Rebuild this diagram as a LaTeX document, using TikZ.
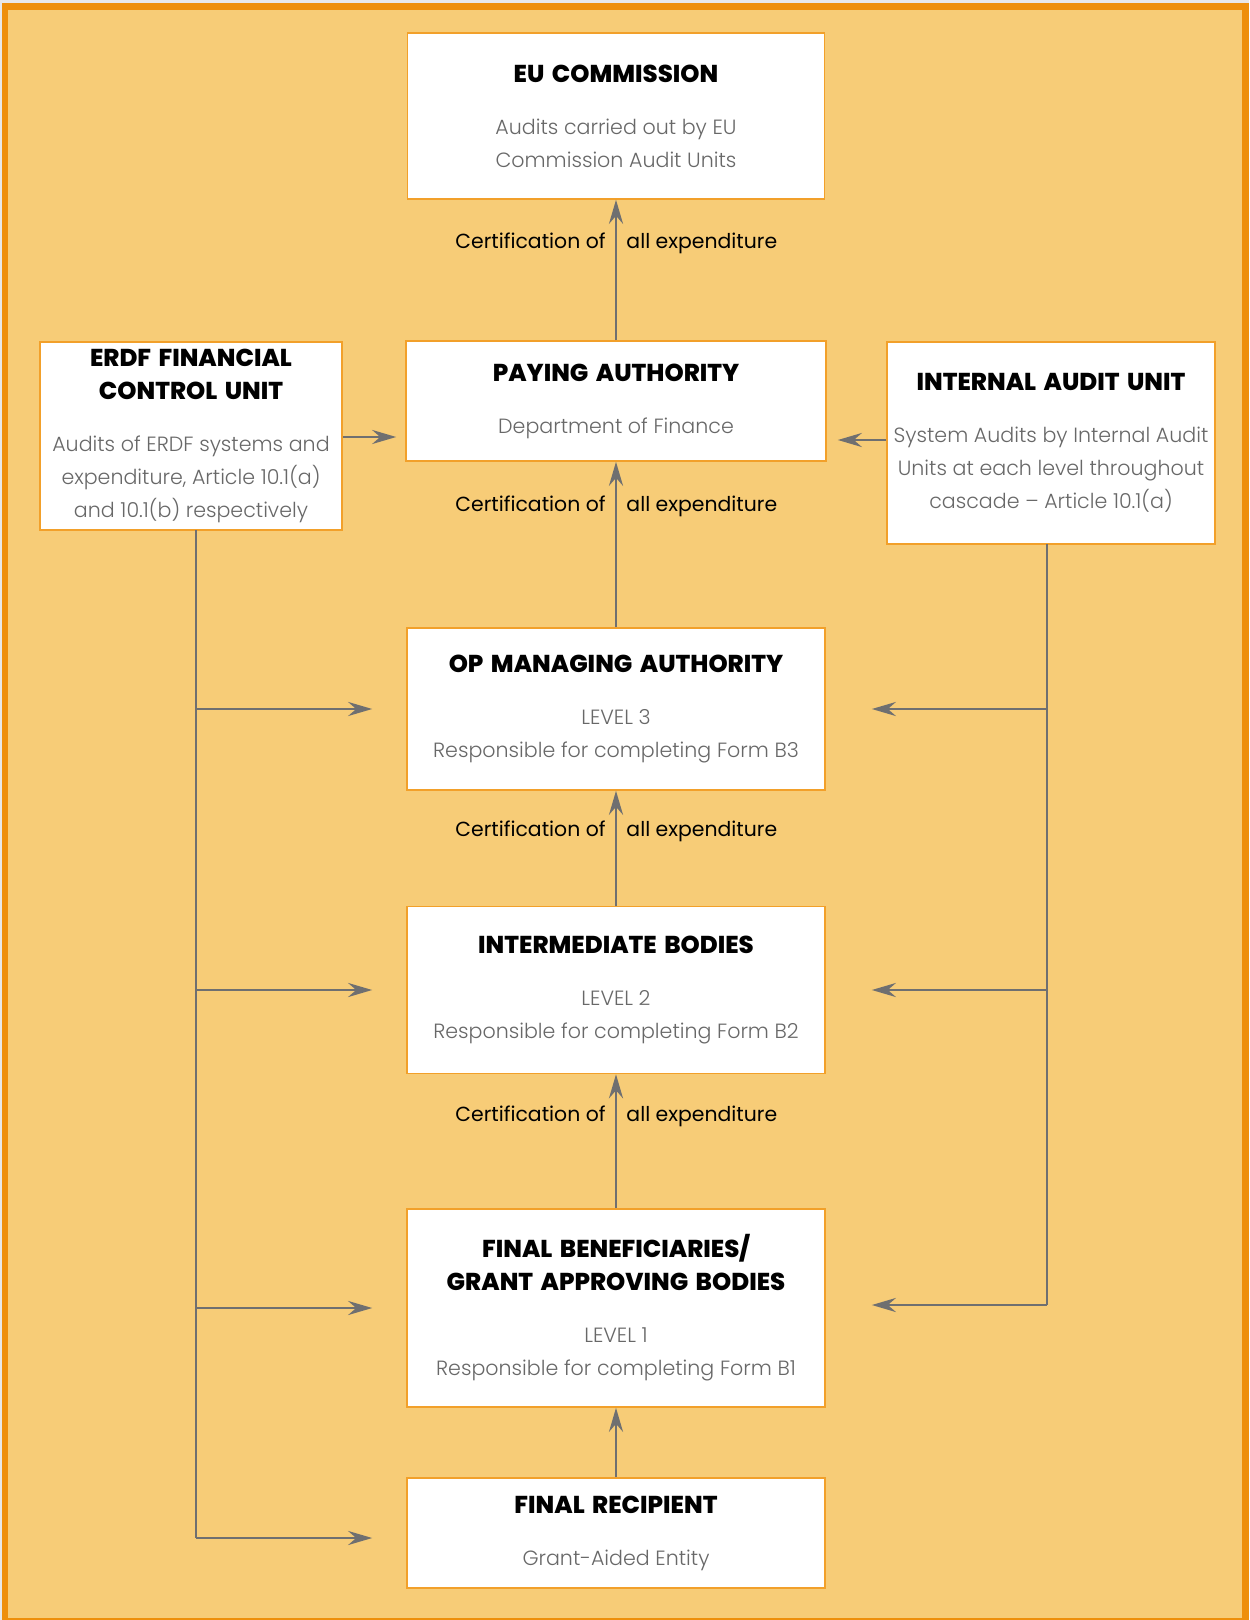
\documentclass[tikz,border=0pt]{standalone}
\usepackage{fontspec}
\IfFontExistsTF{Poppins Light}
  {\setmainfont{Poppins Light}[BoldFont={Poppins Bold}]}
  {\setmainfont{Poppins}}
\IfFontExistsTF{Poppins ExtraBold}
  {\newfontfamily\headfont{Poppins ExtraBold}[WordSpace=1.6]}
  {\newfontfamily\headfont{Poppins}[UprightFont=*-Bold,WordSpace=1.6]}
\newfontfamily\certfont{Poppins}
\usetikzlibrary{arrows.meta}
\definecolor{bgfill}{HTML}{F7CC77}
\definecolor{frameorange}{HTML}{EE8F0B}
\definecolor{boxline}{HTML}{F2A02A}
\definecolor{linegray}{HTML}{6F6F70}
\definecolor{textgray}{HTML}{686868}
\newcommand{\hd}[1]{{\color{black}\headfont\fontsize{12.2}{16.5}\selectfont #1}}

\begin{document}
\begin{tikzpicture}[x=0.5pt,y=-0.5pt,
  box/.style={rectangle,draw=boxline,line width=0.8pt,fill=white,align=center,inner sep=0pt,text=textgray,font=\fontsize{10.3}{16.5}\selectfont},
  conn/.style={draw=linegray,line width=1.45pt},
  arr/.style={conn,-{Stealth[length=12pt,width=7pt,inset=4pt]}},
  cert/.style={font=\certfont\fontsize{10.2}{13}\selectfont,text=black,inner sep=4.5pt}]
  \fill[black!9] (0,0) rectangle (1249,1620);
  \fill[frameorange] (2,3) rectangle (1249,1620);
  \fill[bgfill] (8,10) rectangle (1242,1618);

  \node[box,minimum width=208.5pt,minimum height=83pt] (eu) at (616,116)
    {\hd{EU COMMISSION}\\[9.5pt]Audits carried out by EU\\Commission Audit Units};
  \node[box,minimum width=210pt,minimum height=60pt] (pay) at (616,401)
    {\hd{PAYING AUTHORITY}\\[9.5pt]Department of Finance};
  \node[box,minimum width=151pt,minimum height=94pt] (erdf) at (191,436)
    {\hd{ERDF FINANCIAL}\\\hd{CONTROL UNIT}\\[9.5pt]Audits of ERDF systems and\\expenditure, Article 10.1(a)\\and 10.1(b) respectively};
  \node[box,minimum width=164pt,minimum height=101pt] (iau) at (1051,443)
    {\hd{INTERNAL AUDIT UNIT}\\[9.5pt]System Audits by Internal Audit\\Units at each level throughout\\cascade -- Article 10.1(a)};
  \node[box,minimum width=209pt,minimum height=81pt] (op) at (616,709)
    {\hd{OP MANAGING AUTHORITY}\\[9.5pt]LEVEL 3\\Responsible for completing Form B3};
  \node[box,minimum width=209pt,minimum height=83.5pt] (ib) at (616,990)
    {\hd{INTERMEDIATE BODIES}\\[9.5pt]LEVEL 2\\Responsible for completing Form B2};
  \node[box,minimum width=209pt,minimum height=99pt] (fb) at (616,1308)
    {\hd{FINAL BENEFICIARIES/}\\\hd{GRANT APPROVING BODIES}\\[9.5pt]LEVEL 1\\Responsible for completing Form B1};
  \node[box,minimum width=209pt,minimum height=55pt] (fr) at (616,1533)
    {\hd{FINAL RECIPIENT}\\[9.5pt]Grant-Aided Entity};

  \coordinate (ltop) at (196,530);
  \coordinate (lbot) at (196,1538);
  \coordinate (rtop) at (1047,544);
  \coordinate (rbot) at (1047,1305);

  \draw[arr] (pay.north) -- (eu.south)
    node[cert,pos=0.655,anchor=base east] {Certification of}
    node[cert,pos=0.655,anchor=base west] {all expenditure};
  \draw[arr] (op.north) -- (pay.south)
    node[cert,pos=0.70,anchor=base east] {Certification of}
    node[cert,pos=0.70,anchor=base west] {all expenditure};
  \draw[arr] (ib.north) -- (op.south)
    node[cert,pos=0.60,anchor=base east] {Certification of}
    node[cert,pos=0.60,anchor=base west] {all expenditure};
  \draw[arr] (fb.north) -- (ib.south)
    node[cert,pos=0.65,anchor=base east] {Certification of}
    node[cert,pos=0.65,anchor=base west] {all expenditure};
  \draw[arr] (fr.north) -- (fb.south);

  \draw[arr,shorten >=4.5pt] (erdf.east |- 0,437) -- (pay.west |- 0,437);
  \draw[arr,shorten >=5.5pt] (iau.west |- 0,440) -- (pay.east |- 0,440);

  \draw[conn] (ltop) -- (lbot);
  \draw[arr,shorten >=17pt] (ltop |- op.west) -- (op.west);
  \draw[arr,shorten >=17pt] (ltop |- ib.west) -- (ib.west);
  \draw[arr,shorten >=17pt] (ltop |- fb.west) -- (fb.west);
  \draw[arr,shorten >=17pt] (lbot) -- (lbot -| fr.west);

  \draw[conn] (rtop) -- (rbot);
  \draw[arr,shorten >=23pt] (rtop |- op.east) -- (op.east);
  \draw[arr,shorten >=23pt] (rtop |- ib.east) -- (ib.east);
  \draw[arr,shorten >=23pt] (rbot) -- (rbot -| fb.east);
\end{tikzpicture}
\end{document}
